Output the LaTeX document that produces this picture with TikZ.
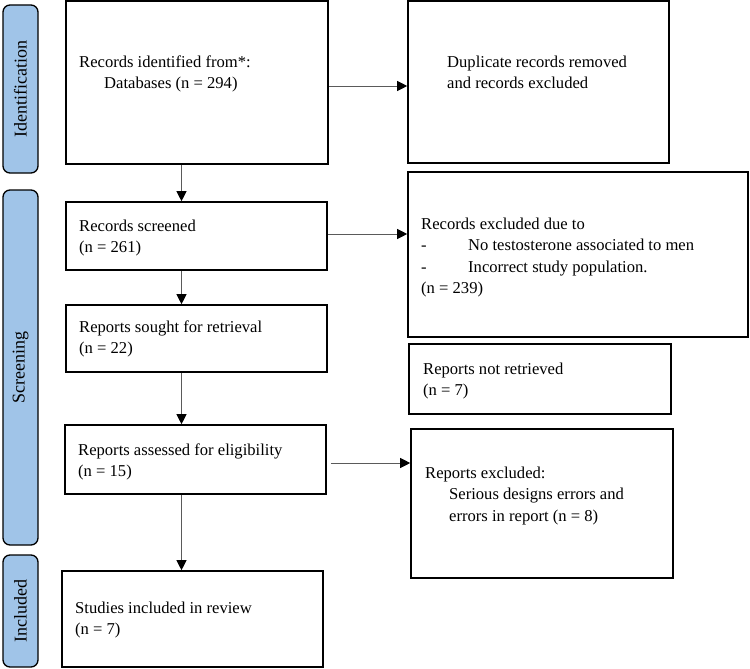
\documentclass[tikz,border=0pt]{standalone}
\usepackage{fontspec}
\setmainfont{Liberation Serif}
\usetikzlibrary{arrows.meta}
\definecolor{stageblue}{RGB}{160,196,232}
\definecolor{flowgray}{RGB}{90,90,90}
\begin{document}
\begin{tikzpicture}[x=1pt,y=1pt,yscale=-1,
  box/.style={draw=black,line width=1.6pt,inner sep=0pt},
  stage/.style={draw=black,line width=1.3pt,fill=stageblue,rounded corners=7pt,inner sep=0pt,rotate=90,font=\fontsize{18}{21}\selectfont},
  txt/.style={anchor=north west,inner sep=0pt,align=left,font=\fontsize{16.6}{21.5}\selectfont},
  flow/.style={draw=flowgray,line width=0.8pt,-{Triangle[length=10pt,width=10pt,color=black]}}]
\useasboundingbox (0,0) rectangle (750,669);

%Stages
\node[stage,minimum width=168,minimum height=35] (sid) at (20.5,89) {Identification};
\node[stage,minimum width=355,minimum height=35] (sscr) at (20.5,367.5) {Screening};
\node[stage,minimum width=112,minimum height=35] (sinc) at (20.5,611) {Included};

%Boxes
\node[box,minimum width=262,minimum height=163] (idf) at (197,82.5) {};
\node[box,minimum width=261,minimum height=162] (dup) at (538.5,82) {};
\node[box,minimum width=261,minimum height=68] (scr) at (196.5,236) {};
\node[box,minimum width=340,minimum height=165] (excl) at (578,254.5) {};
\node[box,minimum width=261,minimum height=67] (sought) at (196.5,338.5) {};
\node[box,minimum width=262,minimum height=70] (notret) at (540,379) {};
\node[box,minimum width=261,minimum height=69] (elig) at (195.5,459.5) {};
\node[box,minimum width=262,minimum height=149] (repx) at (542,503.5) {};
\node[box,minimum width=261,minimum height=96] (incl) at (192.5,619) {};

%Texts
\node[txt] (tidf) at (79,55.5) {Records identified from*:\\\hspace*{25pt}Databases (n = 294)};
\node[txt] (tdup) at (447,55.5) {Duplicate records removed\\and records excluded};
\node[txt] (tscr) at (79,219.5) {Records screened\\(n = 261)};
\node[txt] (texcl) at (421,217.5) {Records excluded due to\\\makebox[47pt][l]{-}No testosterone associated to men\\\makebox[47pt][l]{-}Incorrect study population.\\(n = 239)};
\node[txt] (tsought) at (79,320.5) {Reports sought for retrieval\\(n = 22)};
\node[txt] (tnotret) at (423,362.5) {Reports not retrieved\\(n = 7)};
\node[txt] (telig) at (78,443.5) {Reports assessed for eligibility\\(n = 15)};
\node[txt] (trepx) at (425,466.5) {Reports excluded:\\\hspace*{24pt}Serious designs errors and\\\hspace*{24pt}errors in report (n = 8)};
\node[txt] (tincl) at (75,601.5) {Studies included in review\\(n = 7)};

%Arrows
\draw[flow] (idf.south -| 181.5,0) -- (scr.north -| 181.5,0);
\draw[flow] (scr.south -| 181.5,0) -- (sought.north -| 181.5,0);
\draw[flow] (sought.south -| 181.5,0) -- (elig.north -| 181.5,0);
\draw[flow] (elig.south -| 181.5,0) -- (incl.north -| 181.5,0);
\draw[flow] (idf.east |- 0,86) -- (dup.west |- 0,86);
\draw[flow] (scr.east |- 0,234) -- (excl.west |- 0,234);
\draw[flow,shorten <=4pt] (elig.east |- 0,463) -- (repx.west |- 0,463);

\end{tikzpicture}
\end{document}
